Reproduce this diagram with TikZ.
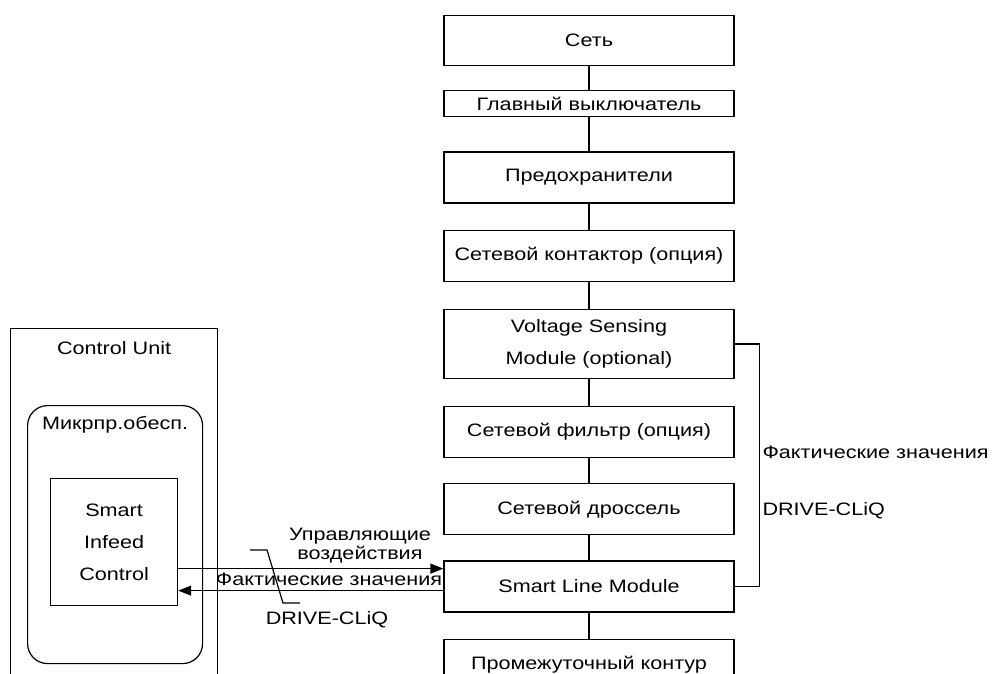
\documentclass[tikz,border=0pt]{standalone}
\usepackage{fontspec}
\setmainfont{Liberation Sans}[FakeStretch=1.2]
\usepackage{tikz}
\usetikzlibrary{arrows.meta}
\usetikzlibrary{positioning}
\tikzstyle{block} = [rectangle, draw=black, line width=1.2pt, minimum width=290pt, minimum height=51pt, text centered, inner sep=0pt]
\tikzstyle{frame} = [rectangle, draw=black, line width=1.2pt, anchor=north west]
\tikzstyle{wire} = [line width=1.2pt]
\tikzstyle{arrow} = [line width=1.2pt, -{Triangle[length=13pt,width=10pt]}]

\begin{document}
\begin{tikzpicture}[x=1pt, y=-1pt, font=\fontsize{18}{21.5}\selectfont, node distance=26pt]
\clip (0,0) rectangle (993,674);
% power path
\node (net) [block, minimum height=50pt, anchor=north] at (589,15) {Сеть};
\node (mainsw) [block, minimum height=26pt, below=24pt of net] {Главный выключатель};
\node (fuses) [block, below=34pt of mainsw] {Предохранители};
\node (contactor) [block, below=of fuses] {Сетевой контактор (опция)};
\node (vsm) [block, minimum height=69pt, align=center, below=27pt of contactor] {Voltage Sensing\\[10.5pt]Module (optional)};
\node (filter) [block, below=27pt of vsm] {Сетевой фильтр (опция)};
\node (choke) [block, below=25pt of filter] {Сетевой дроссель};
\node (slm) [block, below=25pt of choke] {Smart Line Module};
\node (dclink) [block, below=of slm] {Промежуточный контур};
\foreach \a/\b in {net/mainsw, mainsw/fuses, fuses/contactor, contactor/vsm, vsm/filter, filter/choke, choke/slm, slm/dclink}
    \draw [wire] (\a) -- (\b);

% control unit
\node (cu) [frame, minimum width=207pt, minimum height=360pt] at (10,328) {};
\node (cutitle) at ([yshift=-20pt]cu.north) {Control Unit};
\node (mp) [frame, rounded corners=20pt, minimum width=175pt, minimum height=258pt] at (27,405) {};
\node (mptitle) at ([yshift=-20pt]mp.north) {Микрпр.обесп.};
\node (sic) [frame, minimum width=127pt, minimum height=127pt, align=center] at (50,478) {Smart\\[10.5pt]Infeed\\[10.5pt]Control};

% DRIVE-CLiQ links
\coordinate (ctl) at ([yshift=-26.5pt]sic.east);
\coordinate (fb) at ([yshift=-48.5pt]sic.east);
\draw [arrow] (ctl) -- (ctl -| slm.west);
\draw [arrow] (fb -| slm.west) -- (fb);
\node (ctltext) [align=center] at (360,546) {Управляющие\\[-2.5pt]воздействия};
\node (fbtext) at (329,579) {Фактические значения};
\node (dcq) at (327,620) {DRIVE-CLiQ};
\coordinate (lead1) at (250,550);
\coordinate (lead2) at (267,550);
\coordinate (lead3) at (283,603);
\coordinate (lead4) at (300,603);
\draw [wire] (lead1) -- (lead2) -- (lead3) -- (lead4);

\draw [wire] (vsm.east) -- ++(25,0) |- (slm.east);
\node (vsmtext) [anchor=west] at (759,452) {Фактические значения};
\node (vsmdcq) [anchor=west] at (759,511) {DRIVE-CLiQ};
\end{tikzpicture}
\end{document}
